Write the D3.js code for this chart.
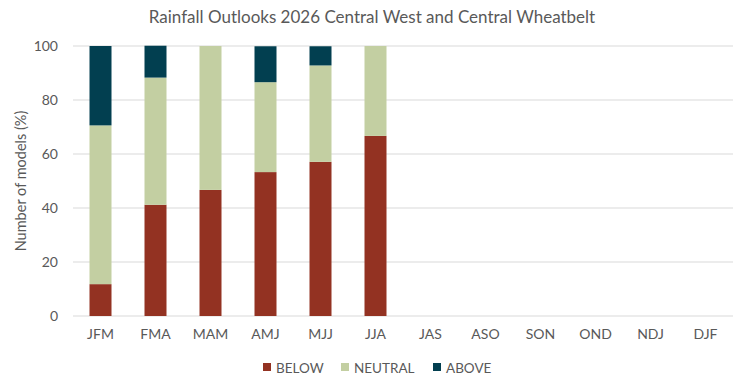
<!DOCTYPE html>
<html><head><meta charset="utf-8">
<script src="https://cdn.jsdelivr.net/npm/d3@7"></script>
<style>body{margin:0;background:#fff;} text{font-family:Lato,"Open Sans",sans-serif;fill:#595959;}</style>
</head><body>
<svg id="c" width="747" height="387"></svg>
<script>
const categories = ["JFM","FMA","MAM","AMJ","MJJ","JJA","JAS","ASO","SON","OND","NDJ","DJF"];
const below   = [11.8, 41.2, 46.7, 53.3, 57.1, 66.7, null, null, null, null, null, null];
const neutral = [58.8, 47.1, 53.3, 33.3, 35.7, 33.3, null, null, null, null, null, null];
const above   = [29.4, 11.8, 0, 13.3, 7.1, 0, null, null, null, null, null, null];
const seriesNames = ["BELOW","NEUTRAL","ABOVE"];
const colors = ["#933222","#C3CFA2","#023F50"];
const yTicks = [0,20,40,60,80,100];

const svg = d3.select("#c");
const m = {l:73, r:14, t:46, b:71};
const W = 747, H = 387;
const x = d3.scaleBand().domain(categories).range([m.l, W-m.r]).paddingInner(0.6).paddingOuter(0.3);
const y = d3.scaleLinear().domain([0,100]).range([H-m.b, m.t]);

// grid
svg.append("g").selectAll("line").data(yTicks).join("line")
  .attr("x1", m.l).attr("x2", W-m.r)
  .attr("y1", d=>y(d)).attr("y2", d=>y(d))
  .attr("stroke", "#d9d9d9").attr("stroke-width", 1);

const rows = categories.map((c,i)=>({cat:c, BELOW:below[i]||0, NEUTRAL:neutral[i]||0, ABOVE:above[i]||0}));
const stack = d3.stack().keys(seriesNames)(rows);
svg.append("g").selectAll("g").data(stack).join("g")
  .attr("fill", (d,i)=>colors[i])
  .selectAll("rect").data(d=>d.filter(p=>p[1]-p[0]>0)).join("rect")
  .attr("x", d=>x(d.data.cat)).attr("width", x.bandwidth())
  .attr("y", d=>y(d[1])).attr("height", d=>y(d[0])-y(d[1]));

// y axis labels
const yAxis = d3.axisLeft(y).tickValues(yTicks).tickSize(0).tickPadding(15);
const ga = svg.append("g").attr("transform", `translate(${m.l},0)`).call(yAxis);
ga.select(".domain").remove();
ga.selectAll("text").style("font-size","14px").attr("fill","#595959").style("font-family","Lato,'Open Sans',sans-serif");

const xAxis = d3.axisBottom(x).tickSize(0).tickPadding(13);
const gx = svg.append("g").attr("transform", `translate(0,${H-m.b})`).call(xAxis);
gx.select(".domain").remove();
gx.selectAll("text").style("font-size","14px").attr("fill","#595959").style("font-family","Lato,'Open Sans',sans-serif");

svg.append("text").attr("x", 372).attr("y", 23).attr("text-anchor","middle")
  .style("font-size","17px").text("Rainfall Outlooks 2026 Central West and Central Wheatbelt");

svg.append("text").attr("transform", `translate(26,${(y(0)+y(100))/2}) rotate(-90)`)
  .attr("text-anchor","middle").style("font-size","14.5px").text("Number of models (%)");

// legend
const legX = [263, 341, 433];
const lg = svg.append("g");
seriesNames.forEach((s,i)=>{
  lg.append("rect").attr("x", legX[i]).attr("y", 363).attr("width", 8).attr("height", 8).attr("fill", colors[i]);
  lg.append("text").attr("x", legX[i]+13).attr("y", 372.5).style("font-size","13.5px").text(s);
});
</script>
</body></html>
